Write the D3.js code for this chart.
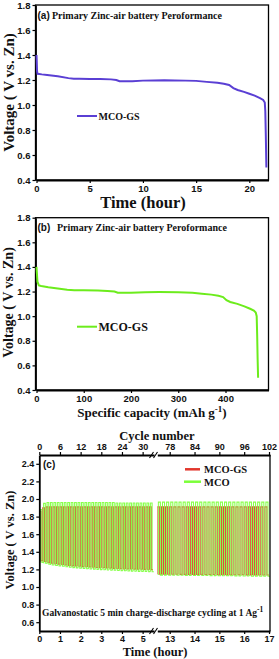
<!DOCTYPE html>
<html>
<head>
<meta charset="utf-8">
<script src="https://cdn.jsdelivr.net/npm/d3@7"></script>
<style>
  body { margin: 0; background: #fff; }
  .serif { font-family: "Liberation Serif", "Times New Roman", serif; font-weight: bold; }
  .sans { font-family: "Liberation Sans", Arial, sans-serif; font-weight: bold; }
</style>
</head>
<body>
<svg id="fig" width="279" height="659"></svg>
<script>
// ---- panel (a): voltage vs time
var timeA = [0, 0.02, 0.05, 0.1, 0.5, 1, 2, 3, 3.5, 4, 5, 6, 7, 7.5, 7.8, 8.2, 9, 10, 11, 12, 13, 14, 15, 16, 17, 17.6, 18.1, 18.5, 18.9, 19.5, 20, 20.5, 21, 21.3, 21.45, 21.5, 21.55, 21.6];
var voltA = [1.40, 1.36, 1.27, 1.25, 1.245, 1.24, 1.23, 1.215, 1.21, 1.21, 1.208, 1.208, 1.205, 1.20, 1.19, 1.19, 1.19, 1.195, 1.196, 1.197, 1.196, 1.195, 1.193, 1.185, 1.178, 1.17, 1.16, 1.135, 1.12, 1.105, 1.09, 1.075, 1.055, 1.04, 1.02, 0.95, 0.75, 0.50];

// ---- panel (b): voltage vs specific capacity
var capB = [0, 1, 2, 5, 10, 25, 45, 65, 80, 100, 130, 150, 165, 172, 180, 200, 230, 260, 300, 330, 350, 370, 385, 395, 402, 410, 425, 440, 452, 460, 464, 466, 467, 468, 469];
var voltB = [1.40, 1.34, 1.28, 1.25, 1.245, 1.235, 1.225, 1.215, 1.21, 1.21, 1.208, 1.205, 1.20, 1.19, 1.19, 1.19, 1.195, 1.196, 1.195, 1.19, 1.183, 1.175, 1.165, 1.155, 1.13, 1.115, 1.10, 1.08, 1.06, 1.045, 1.03, 1.00, 0.85, 0.65, 0.50];

// ---- panel (c): cycling, one charge / discharge value per cycle (10 min per cycle)
var cycFirstL = 0, cycFirstR = 75;
var gsHighL = [1.86, 1.90, 1.91, 1.91, 1.91, 1.91, 1.91, 1.91, 1.91, 1.91, 1.91, 1.91, 1.91, 1.91, 1.91, 1.91, 1.91, 1.91, 1.91, 1.91, 1.91, 1.91, 1.91, 1.91, 1.91, 1.91, 1.91, 1.91, 1.91, 1.91, 1.91, 1.91, 1.91];
var gsLowL = [1.30, 1.29, 1.28, 1.27, 1.265, 1.26, 1.255, 1.25, 1.245, 1.24, 1.238, 1.235, 1.232, 1.23, 1.228, 1.225, 1.222, 1.22, 1.218, 1.216, 1.214, 1.212, 1.21, 1.208, 1.206, 1.205, 1.204, 1.203, 1.202, 1.201, 1.200, 1.199, 1.198];
var mcoHighL = [1.88, 1.95, 1.96, 1.96, 1.96, 1.96, 1.96, 1.96, 1.96, 1.96, 1.96, 1.96, 1.96, 1.96, 1.96, 1.96, 1.96, 1.96, 1.96, 1.96, 1.96, 1.96, 1.955, 1.955, 1.955, 1.955, 1.955, 1.955, 1.955, 1.955, 1.955, 1.955, 1.955];
var mcoLowL = [1.28, 1.27, 1.26, 1.25, 1.245, 1.24, 1.235, 1.23, 1.225, 1.22, 1.217, 1.214, 1.211, 1.208, 1.205, 1.203, 1.20, 1.198, 1.196, 1.194, 1.192, 1.19, 1.188, 1.186, 1.184, 1.182, 1.18, 1.179, 1.178, 1.177, 1.176, 1.175, 1.174];
var gsHighR = [1.91, 1.91, 1.91, 1.91, 1.91, 1.91, 1.91, 1.91, 1.91, 1.91, 1.91, 1.91, 1.91, 1.91, 1.91, 1.91, 1.91, 1.91, 1.91, 1.91, 1.91, 1.91, 1.91, 1.91, 1.91, 1.91, 1.91];
var gsLowR = [1.145, 1.145, 1.145, 1.145, 1.145, 1.144, 1.144, 1.144, 1.143, 1.143, 1.143, 1.142, 1.142, 1.142, 1.141, 1.141, 1.14, 1.14, 1.14, 1.139, 1.139, 1.138, 1.138, 1.137, 1.137, 1.136, 1.136];
var mcoHighR = [1.965, 1.965, 1.965, 1.965, 1.965, 1.965, 1.965, 1.965, 1.965, 1.965, 1.965, 1.965, 1.965, 1.965, 1.965, 1.965, 1.965, 1.965, 1.965, 1.965, 1.965, 1.965, 1.965, 1.965, 1.965, 1.965, 1.965];
var mcoLowR = [1.135, 1.135, 1.134, 1.134, 1.133, 1.133, 1.132, 1.132, 1.131, 1.131, 1.13, 1.13, 1.129, 1.129, 1.128, 1.128, 1.127, 1.127, 1.126, 1.126, 1.125, 1.125, 1.124, 1.124, 1.123, 1.123, 1.122];

var ticksA = [0, 5, 10, 15, 20];
var ticksB = [0, 100, 200, 300, 400];
var ticksVolt = [0.4, 0.6, 0.8, 1.0, 1.2, 1.4, 1.6, 1.8];
var ticksVoltC = [0.6, 0.8, 1.0, 1.2, 1.4, 1.6, 1.8, 2.0, 2.2, 2.4];
var ticksTimeL = [0, 1, 2, 3, 4, 5], ticksTimeR = [13, 14, 15, 16, 17];
var ticksCycL = [0, 6, 12, 18, 24, 30], ticksCycR = [78, 84, 90, 96, 102];

var colA = '#5a3fd4', colB = '#6cec1c', colGS = '#e2362c', colMCO = '#7cff3a';

var svg = d3.select('#fig');
var f1 = d3.format('.1f'), fInt = d3.format('d');

function styleAxis(g, size) {
  g.attr('font-family', '"Liberation Sans", Arial, sans-serif')
    .attr('font-weight', 'bold')
    .attr('font-size', size);
  g.select('.domain').attr('stroke-width', 1.8);
  g.selectAll('.tick line').attr('stroke-width', 1.2);
  g.selectAll('.tick text').attr('fill', '#111');
  return g;
}

function text(x, y, str, size, cls, anchor) {
  return svg.append('text').attr('x', x).attr('y', y)
    .attr('class', cls || 'serif').attr('font-size', size)
    .attr('text-anchor', anchor || 'start').attr('fill', '#111').text(str);
}

function yLabel(x, y, size) {
  svg.append('text').attr('class', 'serif').attr('font-size', size)
    .attr('text-anchor', 'middle').attr('fill', '#111')
    .attr('transform', 'translate(' + x + ',' + y + ') rotate(-90)')
    .text('Voltage ( V vs. Zn)');
}

// ---------------- simple panels (a) and (b)
function simplePanel(o) {
  var x = d3.scaleLinear().domain(o.xDom).range([36.5, 268.5]);
  var y = d3.scaleLinear().domain([0.4, 1.8]).range([o.bottom, o.top]);

  svg.append('rect').attr('x', 35.5).attr('y', o.top).attr('width', 233).attr('height', o.bottom - o.top)
    .attr('fill', 'none').attr('stroke', '#000').attr('stroke-width', 1.3);

  styleAxis(svg.append('g').attr('transform', 'translate(0,' + o.bottom + ')')
    .call(d3.axisBottom(x).tickValues(o.xTicks).tickFormat(fInt).tickSize(3).tickSizeOuter(0).tickPadding(2)), 9.5);
  styleAxis(svg.append('g').attr('transform', 'translate(35.5,0)')
    .call(d3.axisLeft(y).tickValues(ticksVolt).tickFormat(f1).tickSize(3).tickSizeOuter(0).tickPadding(2)), 9.5);

  svg.append('path').datum(d3.zip(o.xs, o.ys))
    .attr('fill', 'none').attr('stroke', o.color).attr('stroke-width', 2)
    .attr('d', d3.line().x(function(d) { return x(d[0]); }).y(function(d) { return y(d[1]); }));

  text(37.5, o.top + 13.5, o.tag, 10, 'sans');
  text(o.titleX, o.top + 13.5, 'Primary Zinc-air battery Peroformance', 10);

  svg.append('line').attr('x1', 77).attr('x2', 97).attr('y1', o.legY).attr('y2', o.legY)
    .attr('stroke', o.color).attr('stroke-width', 2);
  text(98.5, o.legY + o.legSize * 0.35, 'MCO-GS', o.legSize);
}

simplePanel({ top: 5, bottom: 180, xDom: [0, 21.8], xs: timeA, ys: voltA, color: colA, xTicks: ticksA,
  tag: '(a)', titleX: 52, legY: 116, legSize: 10 });
text(143, 207.5, 'Time (hour)', 16.5, 'serif', 'middle');
yLabel(13.5, 92.5, 15);

simplePanel({ top: 217.7, bottom: 390, xDom: [0, 491], xs: capB, ys: voltB, color: colB, xTicks: ticksB,
  tag: '(b)', titleX: 57, legY: 326.7, legSize: 12 });
var xl = text(152, 417, 'Specific capacity (mAh g', 13, 'serif', 'middle');
xl.append('tspan').attr('dy', -5).attr('font-size', 9).text('-1');
xl.append('tspan').attr('dy', 5).text(')');
yLabel(13, 302.5, 14);

// ---------------- panel (c): broken time axis
var cTop = 455, cBot = 631, cL = 39.3, cBreakL = 154, cBreakR = 157.3, cR = 270;
var yC = d3.scaleLinear().domain([0.5, 2.5]).range([cBot, cTop]);
var xL = d3.scaleLinear().domain([0, 5.55]).range([cL, cBreakL]);
var xR = d3.scaleLinear().domain([12.5, 17.04]).range([cBreakR, cR]);
var cycL = d3.scaleLinear().domain([0, 33.3]).range([cL, cBreakL]);
var cycR = d3.scaleLinear().domain([75, 102.24]).range([cBreakR, cR]);

function cyclePoints(first, highs, lows, shift) {
  var pts = [];
  highs.forEach(function(h, i) {
    var t0 = (first + i) / 6 + shift;
    pts.push([t0, lows[i]], [t0, h], [t0 + 1 / 12, h], [t0 + 1 / 12, lows[i]], [t0 + 1 / 6, lows[i]]);
  });
  return pts;
}

var defs = svg.append('defs');
defs.append('clipPath').attr('id', 'clipL').append('rect')
  .attr('x', cL).attr('y', cTop).attr('width', cBreakL - cL).attr('height', cBot - cTop);
defs.append('clipPath').attr('id', 'clipR').append('rect')
  .attr('x', cBreakR).attr('y', cTop).attr('width', cR - cBreakR).attr('height', cBot - cTop);

function cycLine(sc) {
  return d3.line().x(function(d) { return sc(d[0]); }).y(function(d) { return yC(d[1]); });
}

[
  { pts: cyclePoints(cycFirstL, gsHighL, gsLowL, 0), sc: xL, clip: 'clipL', col: colGS },
  { pts: cyclePoints(cycFirstR, gsHighR, gsLowR, 0), sc: xR, clip: 'clipR', col: colGS },
  { pts: cyclePoints(cycFirstL, mcoHighL, mcoLowL, 1 / 24), sc: xL, clip: 'clipL', col: colMCO },
  { pts: cyclePoints(cycFirstR, mcoHighR, mcoLowR, 1 / 24), sc: xR, clip: 'clipR', col: colMCO }
].forEach(function(s) {
  svg.append('path').datum(s.pts).attr('clip-path', 'url(#' + s.clip + ')')
    .attr('fill', 'none').attr('stroke', s.col).attr('stroke-width', 1.1).attr('opacity', 0.9)
    .attr('d', cycLine(s.sc));
});

// frame
svg.append('line').attr('x1', cR).attr('x2', cR).attr('y1', cTop).attr('y2', cBot).attr('stroke', '#000').attr('stroke-width', 1.3);

styleAxis(svg.append('g').attr('transform', 'translate(0,' + cBot + ')')
  .call(d3.axisBottom(xL).tickValues(ticksTimeL).tickFormat(fInt).tickSize(3).tickSizeOuter(0).tickPadding(2)), 9);
styleAxis(svg.append('g').attr('transform', 'translate(0,' + cBot + ')')
  .call(d3.axisBottom(xR).tickValues(ticksTimeR).tickFormat(fInt).tickSize(3).tickSizeOuter(0).tickPadding(2)), 9);
styleAxis(svg.append('g').attr('transform', 'translate(0,' + cTop + ')')
  .call(d3.axisTop(cycL).tickValues(ticksCycL).tickFormat(fInt).tickSize(3).tickSizeOuter(0).tickPadding(2)), 9);
styleAxis(svg.append('g').attr('transform', 'translate(0,' + cTop + ')')
  .call(d3.axisTop(cycR).tickValues(ticksCycR).tickFormat(fInt).tickSize(3).tickSizeOuter(0).tickPadding(2)), 9);
styleAxis(svg.append('g').attr('transform', 'translate(' + cL + ',0)')
  .call(d3.axisLeft(yC).tickValues(ticksVoltC).tickFormat(f1).tickSize(3).tickSizeOuter(0).tickPadding(2)), 9);

// break marks
[cTop, cBot].forEach(function(yy) {
  [151.5, 155.5].forEach(function(xx) {
    svg.append('line').attr('x1', xx - 2).attr('x2', xx + 2).attr('y1', yy + 3).attr('y2', yy - 3)
      .attr('stroke', '#000').attr('stroke-width', 1.1);
  });
});

text(43, 468, '(c)', 10, 'sans');
text(157, 440, 'Cycle number', 12.5, 'serif', 'middle');
text(155, 656, 'Time (hour)', 12.5, 'serif', 'middle');
yLabel(14, 540, 12.5);

svg.append('line').attr('x1', 185).attr('x2', 200).attr('y1', 469.3).attr('y2', 469.3).attr('stroke', colGS).attr('stroke-width', 2.5);
text(204, 473, 'MCO-GS', 10.5);
svg.append('line').attr('x1', 184).attr('x2', 201).attr('y1', 481.7).attr('y2', 481.7).attr('stroke', colMCO).attr('stroke-width', 2.5);
text(204, 485.5, 'MCO', 10.5);

var ann = text(42, 616, 'Galvanostatic 5 min charge-discharge cycling at 1 Ag', 9.5);
ann.append('tspan').attr('dy', -4).attr('font-size', 7.5).text('-1');
</script>
</body>
</html>
